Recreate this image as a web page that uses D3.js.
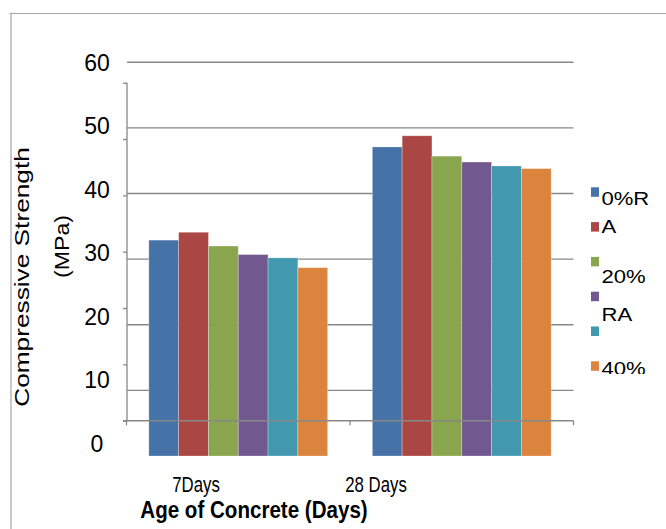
<!DOCTYPE html>
<html>
<head>
<meta charset="utf-8">
<script src="https://cdn.jsdelivr.net/npm/d3@7"></script>
<style>
  html, body { margin: 0; padding: 0; background: #fff; }
  svg { display: block; font-family: "Liberation Sans", Arial, sans-serif; }
</style>
</head>
<body>
<svg id="chart" width="666" height="529"></svg>
<script>
// ---- data ----
const categories = ["7Days", "28 Days"];
const seriesNames = ["S1", "S2", "S3", "S4", "S5", "S6"];
const values7 = [32.9, 34.1, 32.0, 30.7, 30.2, 28.7];
const values28 = [47.1, 48.8, 45.7, 44.8, 44.2, 43.8];
const colors = ["#4572A7", "#AA4643", "#89A54E", "#71588F", "#4198AF", "#DB843D"];
const gridValues = [10, 20, 30, 40, 50, 60];
const tickLabels = ["0", "10", "20", "30", "40", "50", "60"];
const legendLines = ["0%R", "A", "20%", "RA", "40%"];
const yTitle = ["Compressive Strength", "(MPa)"];
const xTitle = "Age of Concrete (Days)";

const svg = d3.select("#chart");

// ---- scales (the picture has mis-registered layers, so several scales) ----
const yBar = d3.scaleLinear().domain([0, 60]).range([456, 62.3]);
const yAxisS = d3.scaleLinear().domain([0, 60]).range([420.7, 82.7]);
const yLab = d3.scaleLinear().domain([0, 60]).range([443, 62]);
const x0 = d3.scaleBand().domain(categories).range([126.5, 573.5]).paddingInner(0).paddingOuter(0);
const x1 = d3.scaleBand().domain(d3.range(seriesNames.length))
  .range([x0.bandwidth() * 0.1, x0.bandwidth() * 0.9]).padding(0);
const xLab = d3.scalePoint().domain(categories).range([196, 376]);
const legY = d3.scaleLinear().domain([0, 1]).range([187.3, 222.1]);

const gray = "#888888";

// frame
svg.append("line").attr("x1", 9.5).attr("x2", 666).attr("y1", 13.5).attr("y2", 13.5)
  .attr("stroke", "#a6a6a6").attr("stroke-width", 1.2);
svg.append("line").attr("x1", 11).attr("x2", 11).attr("y1", 13).attr("y2", 529)
  .attr("stroke", "#a6a6a6").attr("stroke-width", 1.2);

// gridlines
svg.append("g").selectAll("line").data(gridValues).join("line")
  .attr("x1", 127).attr("x2", 573.5)
  .attr("y1", d => yBar(d)).attr("y2", d => yBar(d))
  .attr("stroke", gray).attr("stroke-width", 1.4);

// bars
const data = [values7, values28];
const groups = svg.append("g").selectAll("g").data(categories).join("g")
  .attr("transform", d => `translate(${x0(d)},0)`);
groups.selectAll("rect").data((c, ci) => data[ci].map((v, i) => ({ v, i })))
  .join("rect")
  .attr("x", d => x1(d.i))
  .attr("width", x1.bandwidth())
  .attr("y", d => yBar(d.v))
  .attr("height", d => yBar(0) - yBar(d.v))
  .attr("fill", d => colors[d.i])
  .attr("stroke", "rgba(255,255,255,0.35)")
  .attr("stroke-width", 0.8);

// y axis (its own scale)
const yAxis = d3.axisLeft(yAxisS).tickValues(d3.range(0, 61, 10)).tickSize(4).tickFormat("");
const ya = svg.append("g").attr("transform", "translate(127,0)").call(yAxis);
ya.select(".domain").attr("stroke", gray).attr("stroke-width", 1.3)
  .attr("d", `M0,${yAxisS(60)}V${yAxisS(0)}`);
ya.selectAll(".tick line").attr("stroke", gray).attr("stroke-width", 1.3);

// x axis line with category boundary ticks (drawn over bars)
svg.append("line").attr("x1", 123).attr("x2", 573.5)
  .attr("y1", yAxisS(0)).attr("y2", yAxisS(0))
  .attr("stroke", gray).attr("stroke-width", 1.6);
const bounds = categories.map(c => x0(c)).concat([x0.range()[1]]);
svg.append("g").selectAll("line").data(bounds).join("line")
  .attr("x1", d => d).attr("x2", d => d)
  .attr("y1", yAxisS(0)).attr("y2", yAxisS(0) + 4.5)
  .attr("stroke", gray).attr("stroke-width", 1.3);

// y tick labels
svg.append("g").selectAll("text").data(tickLabels).join("text")
  .attr("x", 97).attr("y", d => yLab(+d) + 8.5)
  .attr("text-anchor", "middle")
  .attr("font-size", 23)
  .attr("fill", "#000")
  .text(d => d);

// category labels
svg.append("g").selectAll("text").data(categories).join("text")
  .attr("transform", d => `translate(${xLab(d)},492) scale(0.8,1.05)`)
  .attr("text-anchor", "middle")
  .attr("font-size", 21)
  .attr("fill", "#000")
  .text(d => d);

// x title
svg.append("text")
  .attr("transform", "translate(254,518) scale(0.98,1.1)")
  .attr("text-anchor", "middle")
  .attr("font-size", 21).attr("font-weight", "bold")
  .attr("fill", "#000")
  .text(xTitle);

// y title
svg.append("text")
  .attr("transform", "translate(28.5,277) rotate(-90) scale(1.25,1)")
  .attr("text-anchor", "middle").attr("font-size", 21).attr("fill", "#000")
  .text(yTitle[0]);
svg.append("text")
  .attr("transform", "translate(68.5,246.5) rotate(-90) scale(1.1,1)")
  .attr("text-anchor", "middle").attr("font-size", 21).attr("fill", "#000")
  .text(yTitle[1]);

// legend
svg.append("g").selectAll("rect").data(colors).join("rect")
  .attr("x", 591).attr("width", 8)
  .attr("y", (d, i) => legY(i)).attr("height", 9.5)
  .attr("fill", d => d);

svg.append("clipPath").attr("id", "legclip")
  .append("rect").attr("x", 560).attr("y", 170).attr("width", 106).attr("height", 204);
const lineSlots = [0.5, 1.3, 2.76, 3.85, 5.4];
svg.append("g").attr("clip-path", "url(#legclip)")
  .selectAll("text").data(legendLines).join("text")
  .attr("transform", (d, i) => `translate(601.5,${legY(lineSlots[i])}) scale(1.05,0.85)`)
  .attr("font-size", 21).attr("fill", "#000")
  .text(d => d);
</script>
</body>
</html>
